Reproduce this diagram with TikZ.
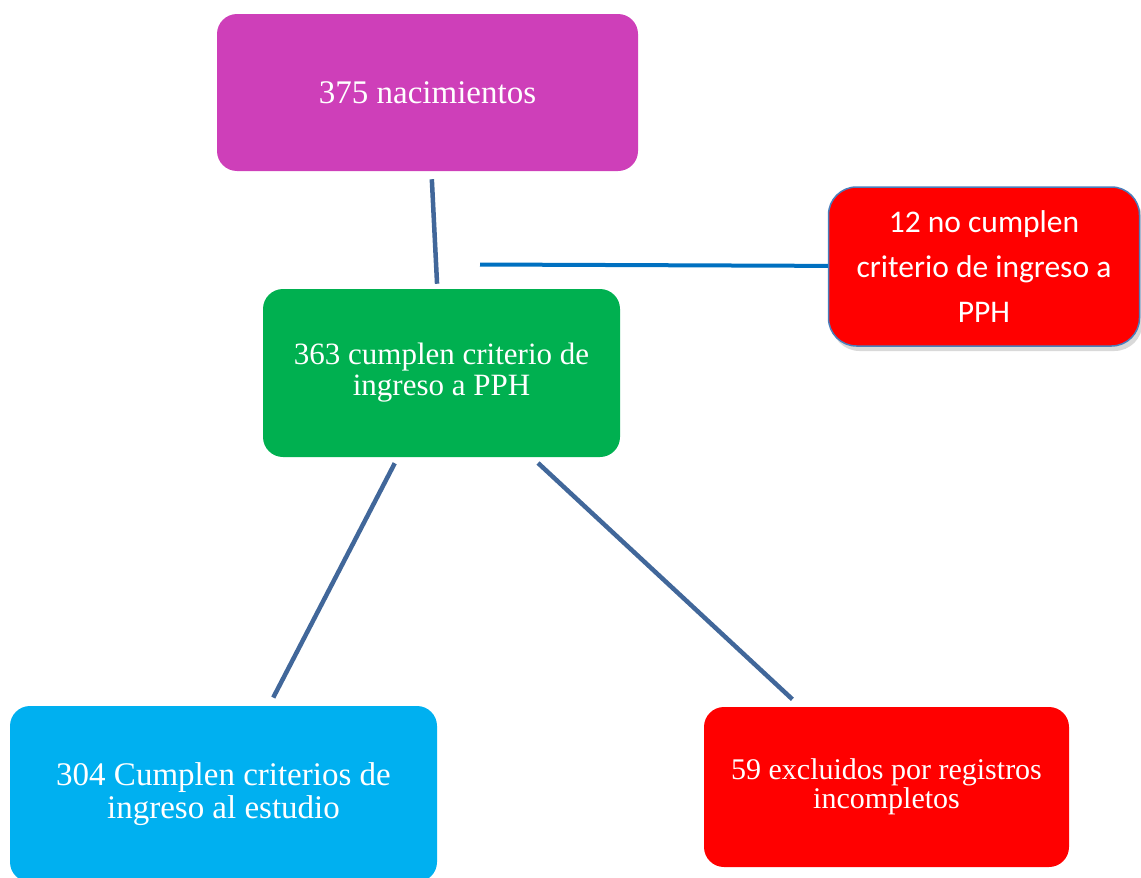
\documentclass[tikz,border=0pt]{standalone}
\usepackage{fontspec}
\setmainfont{Liberation Serif}
\newfontfamily\calibrifont{Carlito}
\usepackage{tikz}
\usetikzlibrary{positioning,shadows}

\definecolor{boxpurple}{HTML}{CE3FB9}
\definecolor{boxgreen}{HTML}{00B050}
\definecolor{boxcyan}{HTML}{00B0F0}
\definecolor{boxred}{HTML}{FF0000}
\definecolor{boxborder}{HTML}{4A7EBB}
\definecolor{linksteel}{HTML}{41679A}
\definecolor{linkblue}{HTML}{0070C0}

\begin{document}
\begin{tikzpicture}[x=1pt,y=-1pt,line width=4.5pt]
       \tikzstyle{box}=[rectangle, rounded corners=20pt, text=white, align=center, inner sep=0pt]
       \useasboundingbox (0,0) rectangle (1141,878);

       \node[box, fill=boxpurple, minimum width=421pt, minimum height=157pt,
             font=\fontsize{33}{36}\selectfont] (n_375) at (427.5,92.5) {375 nacimientos};
       \node[box, fill=boxgreen, minimum width=357pt, minimum height=168pt,
             font=\fontsize{31}{31}\selectfont] (n_363) at (441.5,373) {363 cumplen criterio de\\ingreso a PPH};
       \node[box, fill=boxred, draw=boxborder, line width=1.5pt, rounded corners=28pt,
             minimum width=311pt, minimum height=159pt,
             drop shadow={shadow xshift=3pt, shadow yshift=-5pt, opacity=0.3},
             font=\calibrifont\fontsize{31.5}{45}\selectfont] (n_12) at (984,266.5) {12 no cumplen\\criterio de ingreso a\\PPH};
       \node[box, fill=boxcyan, minimum width=427pt, minimum height=176pt,
             font=\fontsize{33}{33}\selectfont] (n_304) at (223.5,794) {304 Cumplen criterios de\\ingreso al estudio};
       \node[box, fill=boxred, minimum width=365pt, minimum height=160pt,
             font=\fontsize{30}{29}\selectfont] (n_59) at (886.5,787) {59 excluidos por registros\\incompletos};
       \coordinate (j_0) at (480,264.5);

       \path[draw=linksteel]
       (n_375) edge [shorten <=6pt, shorten >=3pt] (n_363)
       (n_363) edge [shorten <=4.5pt, shorten >=7pt] (n_304)
               edge [shorten <=5.5pt, shorten >=8pt] (n_59);
       \path[draw=linkblue, line width=4pt]
       (j_0) edge (n_12);
     \end{tikzpicture}
\end{document}
